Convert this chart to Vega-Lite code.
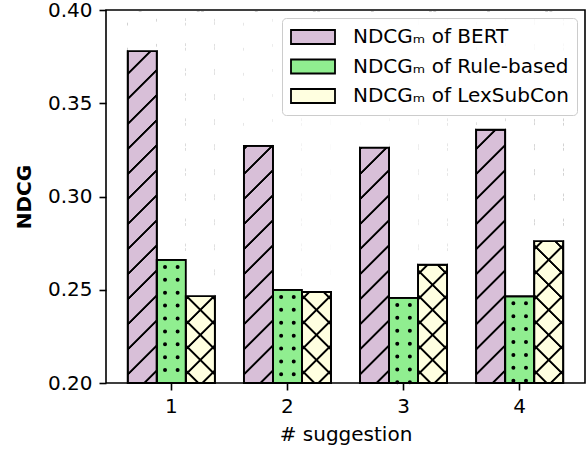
{
  "$schema": "https://vega.github.io/schema/vega-lite/v6.json",
  "width": 479,
  "height": 373,
  "autosize": {"type": "none"},
  "padding": {"left": 106, "top": 10, "right": 2, "bottom": 67},
  "config": {
    "font": "DejaVu Sans",
    "view": {"stroke": "black", "strokeWidth": 1.6},
    "axis": {
      "domain": false,
      "ticks": true,
      "tickColor": "black",
      "tickSize": 7,
      "tickWidth": 1.6,
      "labelColor": "black",
      "labelFont": "DejaVu Sans",
      "labelFontSize": 20,
      "labelPadding": 6,
      "titleColor": "black",
      "titleFont": "DejaVu Sans",
      "titleFontSize": 20,
      "titleFontWeight": "normal",
      "grid": false
    }
  },
  "data": {
    "values": [
      {"suggestion": "1", "method": "BERT", "key": "1 BERT", "ndcg": 0.378},
      {"suggestion": "1", "method": "Rule-based", "key": "1 Rule-based", "ndcg": 0.266},
      {"suggestion": "1", "method": "LexSubCon", "key": "1 LexSubCon", "ndcg": 0.2466},
      {"suggestion": "2", "method": "BERT", "key": "2 BERT", "ndcg": 0.3271},
      {"suggestion": "2", "method": "Rule-based", "key": "2 Rule-based", "ndcg": 0.2499},
      {"suggestion": "2", "method": "LexSubCon", "key": "2 LexSubCon", "ndcg": 0.2488},
      {"suggestion": "3", "method": "BERT", "key": "3 BERT", "ndcg": 0.3262},
      {"suggestion": "3", "method": "Rule-based", "key": "3 Rule-based", "ndcg": 0.2456},
      {"suggestion": "3", "method": "LexSubCon", "key": "3 LexSubCon", "ndcg": 0.2634},
      {"suggestion": "4", "method": "BERT", "key": "4 BERT", "ndcg": 0.3358},
      {"suggestion": "4", "method": "Rule-based", "key": "4 Rule-based", "ndcg": 0.2465},
      {"suggestion": "4", "method": "LexSubCon", "key": "4 LexSubCon", "ndcg": 0.2761}
    ]
  },
  "encoding": {
    "x": {
      "field": "key",
      "type": "ordinal",
      "scale": {
        "domain": ["1 BERT", "1 Rule-based", "1 LexSubCon", "gap1", "2 BERT", "2 Rule-based", "2 LexSubCon", "gap2", "3 BERT", "3 Rule-based", "3 LexSubCon", "gap3", "4 BERT", "4 Rule-based", "4 LexSubCon"],
        "paddingInner": 0,
        "paddingOuter": 0.75
      },
      "axis": {
        "title": "# suggestion",
        "labelAngle": 0,
        "titlePadding": 8,
        "labelPadding": 6,
        "values": ["1 Rule-based", "2 Rule-based", "3 Rule-based", "4 Rule-based"],
        "labelExpr": "split(datum.value, ' ')[0]"
      }
    }
  },
  "layer": [
    {
      "mark": {"type": "bar", "stroke": "black", "strokeWidth": 1.8},
      "encoding": {
        "y": {
          "field": "ndcg",
          "type": "quantitative",
          "scale": {"domain": [0.2, 0.4], "zero": false, "nice": false},
          "axis": {"title": "NDCG", "titleFontWeight": "bold", "values": [0.2, 0.25, 0.3, 0.35, 0.4], "format": ".2f", "titlePadding": 13, "labelPadding": 7}
        },
        "y2": {"datum": 0.2},
        "fill": {
          "field": "method",
          "type": "nominal",
          "scale": {"domain": ["BERT", "Rule-based", "LexSubCon"], "range": ["#D8BFD8", "#90EE90", "#FFFFE0"]},
          "legend": {
            "title": null,
            "orient": "top-right",
            "offset": 8,
            "labelExpr": "'NDCGₘ of ' + datum.label",
            "labelFontSize": 20,
            "labelFont": "DejaVu Sans",
            "labelColor": "black",
            "labelLimit": 400,
            "symbolType": "M-2.2,-0.7H2.2V0.7H-2.2Z",
            "symbolSize": 400,
            "symbolOffset": 12,
            "symbolStrokeColor": "black",
            "symbolStrokeWidth": 1.8,
            "symbolOpacity": 1,
            "fillColor": "rgba(255,255,255,0.85)",
            "strokeColor": "#cccccc",
            "cornerRadius": 4,
            "padding": 8,
            "rowPadding": 7.5,
            "labelOffset": 29
          }
        }
      }
    },
    {
      "transform": [{"filter": "datum.method !== 'Rule-based'"}],
      "mark": {
        "type": "bar",
        "strokeWidth": 0,
        "fill": {
          "gradient": "linear",
          "x1": 0, "y1": 0, "x2": 0.0834, "y2": 1.0715,
          "stops": [
            {"offset": 0, "color": "rgba(0,0,0,0)"},
            {"offset": 0.02645, "color": "rgba(0,0,0,0)"}, {"offset": 0.02905, "color": "#000"}, {"offset": 0.03345, "color": "#000"}, {"offset": 0.03605, "color": "rgba(0,0,0,0)"},
            {"offset": 0.08895, "color": "rgba(0,0,0,0)"}, {"offset": 0.09155, "color": "#000"}, {"offset": 0.09595, "color": "#000"}, {"offset": 0.09855, "color": "rgba(0,0,0,0)"},
            {"offset": 0.15145, "color": "rgba(0,0,0,0)"}, {"offset": 0.15405, "color": "#000"}, {"offset": 0.15845, "color": "#000"}, {"offset": 0.16105, "color": "rgba(0,0,0,0)"},
            {"offset": 0.21395, "color": "rgba(0,0,0,0)"}, {"offset": 0.21655, "color": "#000"}, {"offset": 0.22095, "color": "#000"}, {"offset": 0.22355, "color": "rgba(0,0,0,0)"},
            {"offset": 0.27645, "color": "rgba(0,0,0,0)"}, {"offset": 0.27905, "color": "#000"}, {"offset": 0.28345, "color": "#000"}, {"offset": 0.28605, "color": "rgba(0,0,0,0)"},
            {"offset": 0.33895, "color": "rgba(0,0,0,0)"}, {"offset": 0.34155, "color": "#000"}, {"offset": 0.34595, "color": "#000"}, {"offset": 0.34855, "color": "rgba(0,0,0,0)"},
            {"offset": 0.40145, "color": "rgba(0,0,0,0)"}, {"offset": 0.40405, "color": "#000"}, {"offset": 0.40845, "color": "#000"}, {"offset": 0.41105, "color": "rgba(0,0,0,0)"},
            {"offset": 0.46395, "color": "rgba(0,0,0,0)"}, {"offset": 0.46655, "color": "#000"}, {"offset": 0.47095, "color": "#000"}, {"offset": 0.47355, "color": "rgba(0,0,0,0)"},
            {"offset": 0.52645, "color": "rgba(0,0,0,0)"}, {"offset": 0.52905, "color": "#000"}, {"offset": 0.53345, "color": "#000"}, {"offset": 0.53605, "color": "rgba(0,0,0,0)"},
            {"offset": 0.58895, "color": "rgba(0,0,0,0)"}, {"offset": 0.59155, "color": "#000"}, {"offset": 0.59595, "color": "#000"}, {"offset": 0.59855, "color": "rgba(0,0,0,0)"},
            {"offset": 0.65145, "color": "rgba(0,0,0,0)"}, {"offset": 0.65405, "color": "#000"}, {"offset": 0.65845, "color": "#000"}, {"offset": 0.66105, "color": "rgba(0,0,0,0)"},
            {"offset": 0.71395, "color": "rgba(0,0,0,0)"}, {"offset": 0.71655, "color": "#000"}, {"offset": 0.72095, "color": "#000"}, {"offset": 0.72355, "color": "rgba(0,0,0,0)"},
            {"offset": 0.77645, "color": "rgba(0,0,0,0)"}, {"offset": 0.77905, "color": "#000"}, {"offset": 0.78345, "color": "#000"}, {"offset": 0.78605, "color": "rgba(0,0,0,0)"},
            {"offset": 0.83895, "color": "rgba(0,0,0,0)"}, {"offset": 0.84155, "color": "#000"}, {"offset": 0.84595, "color": "#000"}, {"offset": 0.84855, "color": "rgba(0,0,0,0)"},
            {"offset": 0.90145, "color": "rgba(0,0,0,0)"}, {"offset": 0.90405, "color": "#000"}, {"offset": 0.90845, "color": "#000"}, {"offset": 0.91105, "color": "rgba(0,0,0,0)"},
            {"offset": 0.96395, "color": "rgba(0,0,0,0)"}, {"offset": 0.96655, "color": "#000"}, {"offset": 0.97095, "color": "#000"}, {"offset": 0.97355, "color": "rgba(0,0,0,0)"},
            {"offset": 1, "color": "rgba(0,0,0,0)"}
          ]
        }
      },
      "encoding": {
        "y": {"datum": 0.3993, "type": "quantitative", "title": "NDCG"},
        "y2": {"datum": 0.2}
      }
    },
    {
      "transform": [{"filter": "datum.method === 'LexSubCon'"}],
      "mark": {
        "type": "bar",
        "strokeWidth": 0,
        "fill": {
          "gradient": "linear",
          "x1": 1, "y1": 0, "x2": 0.9166, "y2": 1.0715,
          "stops": [
            {"offset": 0, "color": "rgba(0,0,0,0)"},
            {"offset": 0.02645, "color": "rgba(0,0,0,0)"}, {"offset": 0.02905, "color": "#000"}, {"offset": 0.03345, "color": "#000"}, {"offset": 0.03605, "color": "rgba(0,0,0,0)"},
            {"offset": 0.08895, "color": "rgba(0,0,0,0)"}, {"offset": 0.09155, "color": "#000"}, {"offset": 0.09595, "color": "#000"}, {"offset": 0.09855, "color": "rgba(0,0,0,0)"},
            {"offset": 0.15145, "color": "rgba(0,0,0,0)"}, {"offset": 0.15405, "color": "#000"}, {"offset": 0.15845, "color": "#000"}, {"offset": 0.16105, "color": "rgba(0,0,0,0)"},
            {"offset": 0.21395, "color": "rgba(0,0,0,0)"}, {"offset": 0.21655, "color": "#000"}, {"offset": 0.22095, "color": "#000"}, {"offset": 0.22355, "color": "rgba(0,0,0,0)"},
            {"offset": 0.27645, "color": "rgba(0,0,0,0)"}, {"offset": 0.27905, "color": "#000"}, {"offset": 0.28345, "color": "#000"}, {"offset": 0.28605, "color": "rgba(0,0,0,0)"},
            {"offset": 0.33895, "color": "rgba(0,0,0,0)"}, {"offset": 0.34155, "color": "#000"}, {"offset": 0.34595, "color": "#000"}, {"offset": 0.34855, "color": "rgba(0,0,0,0)"},
            {"offset": 0.40145, "color": "rgba(0,0,0,0)"}, {"offset": 0.40405, "color": "#000"}, {"offset": 0.40845, "color": "#000"}, {"offset": 0.41105, "color": "rgba(0,0,0,0)"},
            {"offset": 0.46395, "color": "rgba(0,0,0,0)"}, {"offset": 0.46655, "color": "#000"}, {"offset": 0.47095, "color": "#000"}, {"offset": 0.47355, "color": "rgba(0,0,0,0)"},
            {"offset": 0.52645, "color": "rgba(0,0,0,0)"}, {"offset": 0.52905, "color": "#000"}, {"offset": 0.53345, "color": "#000"}, {"offset": 0.53605, "color": "rgba(0,0,0,0)"},
            {"offset": 0.58895, "color": "rgba(0,0,0,0)"}, {"offset": 0.59155, "color": "#000"}, {"offset": 0.59595, "color": "#000"}, {"offset": 0.59855, "color": "rgba(0,0,0,0)"},
            {"offset": 0.65145, "color": "rgba(0,0,0,0)"}, {"offset": 0.65405, "color": "#000"}, {"offset": 0.65845, "color": "#000"}, {"offset": 0.66105, "color": "rgba(0,0,0,0)"},
            {"offset": 0.71395, "color": "rgba(0,0,0,0)"}, {"offset": 0.71655, "color": "#000"}, {"offset": 0.72095, "color": "#000"}, {"offset": 0.72355, "color": "rgba(0,0,0,0)"},
            {"offset": 0.77645, "color": "rgba(0,0,0,0)"}, {"offset": 0.77905, "color": "#000"}, {"offset": 0.78345, "color": "#000"}, {"offset": 0.78605, "color": "rgba(0,0,0,0)"},
            {"offset": 0.83895, "color": "rgba(0,0,0,0)"}, {"offset": 0.84155, "color": "#000"}, {"offset": 0.84595, "color": "#000"}, {"offset": 0.84855, "color": "rgba(0,0,0,0)"},
            {"offset": 0.90145, "color": "rgba(0,0,0,0)"}, {"offset": 0.90405, "color": "#000"}, {"offset": 0.90845, "color": "#000"}, {"offset": 0.91105, "color": "rgba(0,0,0,0)"},
            {"offset": 0.96395, "color": "rgba(0,0,0,0)"}, {"offset": 0.96655, "color": "#000"}, {"offset": 0.97095, "color": "#000"}, {"offset": 0.97355, "color": "rgba(0,0,0,0)"},
            {"offset": 1, "color": "rgba(0,0,0,0)"}
          ]
        }
      },
      "encoding": {
        "y": {"datum": 0.3993, "type": "quantitative", "title": "NDCG"},
        "y2": {"datum": 0.2}
      }
    },
    {
      "transform": [{"filter": "datum.method !== 'Rule-based'"}],
      "mark": {"type": "bar", "fill": "white", "strokeWidth": 0},
      "encoding": {
        "y": {"field": "ndcg", "type": "quantitative", "title": "NDCG"},
        "y2": {"datum": 0.3993}
      }
    },
    {
      "transform": [{"filter": "datum.method === 'Rule-based'"}],
      "mark": {"type": "rule", "xOffset": -6.3, "color": "black", "strokeWidth": 4, "strokeCap": "round", "strokeDash": [0, 12.9], "strokeDashOffset": 5.9},
      "encoding": {
        "y": {"field": "ndcg", "type": "quantitative", "title": "NDCG"},
        "y2": {"datum": 0.2}
      }
    },
    {
      "transform": [{"filter": "datum.method === 'Rule-based'"}],
      "mark": {"type": "rule", "xOffset": 6.3, "color": "black", "strokeWidth": 4, "strokeCap": "round", "strokeDash": [0, 12.9], "strokeDashOffset": 5.9},
      "encoding": {
        "y": {"field": "ndcg", "type": "quantitative", "title": "NDCG"},
        "y2": {"datum": 0.2}
      }
    },
    {
      "mark": {"type": "bar", "fill": "transparent", "stroke": "black", "strokeWidth": 1.8},
      "encoding": {
        "y": {"field": "ndcg", "type": "quantitative", "title": "NDCG"},
        "y2": {"datum": 0.2}
      }
    }
  ]
}
